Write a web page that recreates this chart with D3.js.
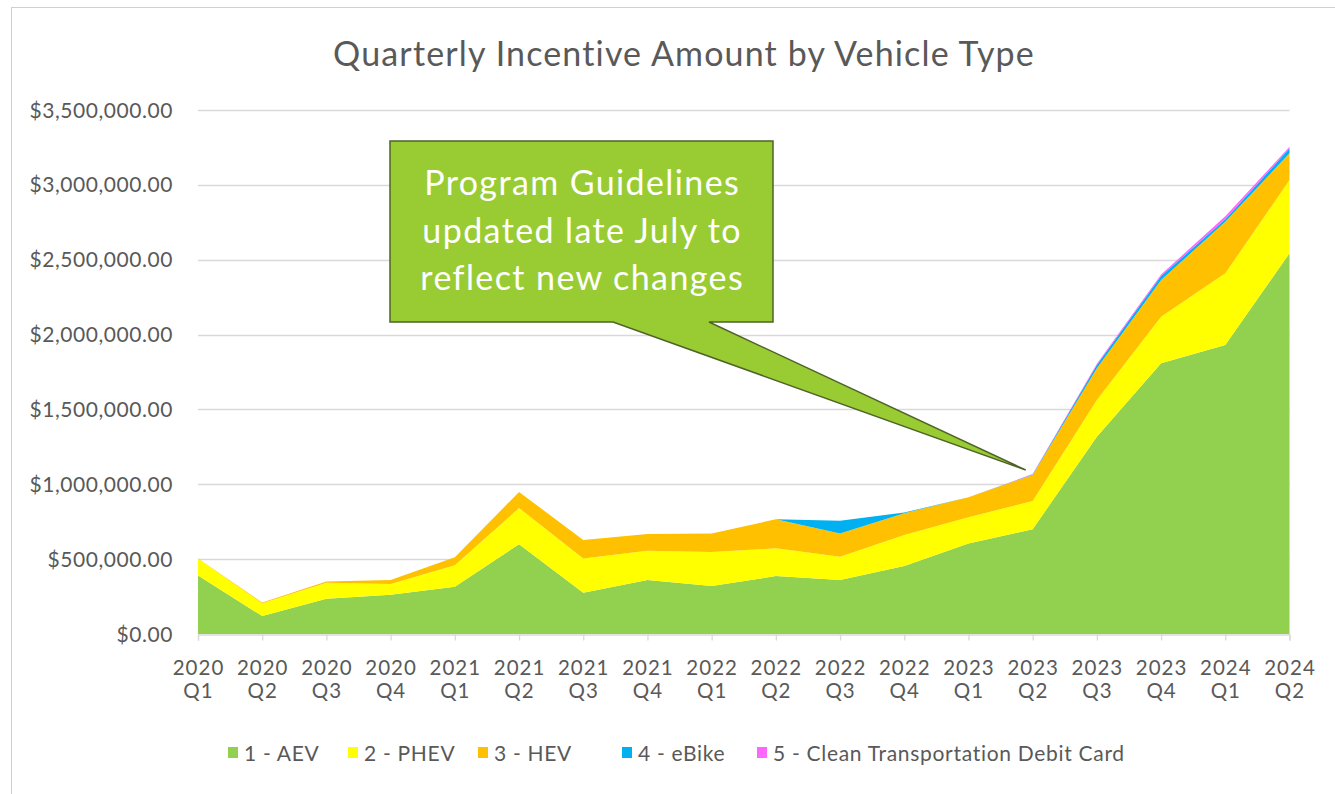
<!DOCTYPE html>
<html>
<head>
<meta charset="utf-8">
<script src="https://cdn.jsdelivr.net/npm/d3@7"></script>
<style>
  body { margin: 0; background: #fff; }
  svg { display: block; font-family: Lato, "Open Sans", sans-serif; }
</style>
</head>
<body>
<div id="chart"></div>
<script>
const quarters = ["2020 Q1","2020 Q2","2020 Q3","2020 Q4","2021 Q1","2021 Q2","2021 Q3","2021 Q4",
  "2022 Q1","2022 Q2","2022 Q3","2022 Q4","2023 Q1","2023 Q2","2023 Q3","2023 Q4","2024 Q1","2024 Q2"];

const seriesNames = ["1 - AEV", "2 - PHEV", "3 - HEV", "4 - eBike", "5 - Clean Transportation Debit Card"];
const seriesColors = ["#92d050", "#ffff00", "#ffc000", "#00b0f0", "#ff66ff"];

const aev   = [390000,120000,236000,262000,316000,600000,276000,361000,321000,387000,361000,454000,605000,700000,1318000,1808000,1930000,2543000];
const phev  = [112000,85000,107000,72000,143000,241000,229000,195000,227000,185000,155000,207000,175000,188000,245000,311000,479000,489000];
const hev   = [3000,5000,7000,26000,53000,108000,123000,112000,124000,194000,156000,145000,134000,174000,212000,245000,345000,179000];
const ebike = [0,0,0,0,0,0,0,0,0,0,85000,5000,0,3000,22000,27000,16000,33000];
const debit = [0,0,0,0,0,0,0,0,0,0,0,0,0,3000,8000,10000,20000,10000];

const yTicks = [0,500000,1000000,1500000,2000000,2500000,3000000,3500000];

const calloutLines = ["Program Guidelines", "updated late July to", "reflect new changes"];

const width = 1335, height = 794;
const seriesValues = [aev, phev, hev, ebike, debit];
const rows = quarters.map((q, i) => {
  const r = { q };
  seriesNames.forEach((s, k) => r[s] = seriesValues[k][i]);
  return r;
});

const svg = d3.select("#chart").append("svg")
  .attr("width", width).attr("height", height);

// outer chart border
svg.append("rect")
  .attr("x", 11.5).attr("y", 7.5)
  .attr("width", width + 20).attr("height", height + 20)
  .attr("fill", "none").attr("stroke", "#d0d0d0");

const x = d3.scalePoint().domain(quarters).range([198, 1289.5]);
const y = d3.scaleLinear().domain([0, 3500000]).range([634, 110]);

// gridlines
svg.append("g")
  .selectAll("line")
  .data(yTicks.slice(1))
  .join("line")
  .attr("x1", 198).attr("x2", 1289.5)
  .attr("y1", d => Math.round(y(d)) + 0.5).attr("y2", d => Math.round(y(d)) + 0.5)
  .attr("stroke", "#d9d9d9").attr("stroke-width", 1.3);

// y labels
const fmt = d3.format("$,.2f");
svg.append("g")
  .attr("font-size", 21)
  .attr("letter-spacing", 0.55)
  .attr("fill", "#595959")
  .attr("text-anchor", "end")
  .selectAll("text")
  .data(yTicks)
  .join("text")
  .attr("x", 173)
  .attr("y", d => y(d) + 7.5)
  .text(d => fmt(d));

// stacked areas
const stack = d3.stack().keys(seriesNames);
const layers = stack(rows);
const area = d3.area()
  .x(d => x(d.data.q))
  .y0(d => y(d[0]))
  .y1(d => y(d[1]));

svg.append("g")
  .selectAll("path")
  .data(layers)
  .join("path")
  .attr("fill", (d, i) => seriesColors[i])
  .attr("d", area);

// x axis line and ticks
const xAxis = d3.axisBottom(x).tickSize(6).tickFormat("");
const gx = svg.append("g")
  .attr("transform", "translate(0,634.5)")
  .call(xAxis);
gx.select(".domain").attr("stroke", "#d9d9d9").attr("stroke-width", 1.3);
gx.selectAll(".tick line").attr("stroke", "#d9d9d9").attr("stroke-width", 1.3);

// x labels (two lines)
svg.append("g")
  .attr("font-size", 20.5)
  .attr("letter-spacing", 1)
  .attr("fill", "#595959")
  .attr("text-anchor", "middle")
  .selectAll("text")
  .data(quarters)
  .join("text")
  .attr("transform", d => `translate(${x(d) + 0.5},0)`)
  .selectAll("tspan")
  .data(d => d.split(" "))
  .join("tspan")
  .attr("x", 0)
  .attr("y", (d, i) => 675 + i * 23)
  .text(d => d);

// title
svg.append("text")
  .attr("x", 684).attr("y", 66)
  .attr("text-anchor", "middle")
  .attr("font-size", 34)
  .attr("letter-spacing", 1.15)
  .attr("fill", "#595959")
  .text("Quarterly Incentive Amount by Vehicle Type");

// callout
const tipQ = "2023 Q2";
const tipX = x(tipQ) - 7, tipY = 470;
const box = { x0: 390, y0: 141, x1: 773, y1: 322 };
const callout = d3.path();
callout.moveTo(box.x0, box.y0);
callout.lineTo(box.x1, box.y0);
callout.lineTo(box.x1, box.y1);
callout.lineTo(709, box.y1);
callout.lineTo(tipX, tipY);
callout.lineTo(613, box.y1);
callout.lineTo(box.x0, box.y1);
callout.closePath();
svg.append("path")
  .attr("d", callout.toString())
  .attr("fill", "#99cc33")
  .attr("stroke", "#4f6228")
  .attr("stroke-width", 1.5)
  .attr("stroke-linejoin", "miter");

svg.append("g")
  .attr("font-size", 34)
  .attr("letter-spacing", 1.4)
  .attr("fill", "#ffffff")
  .attr("text-anchor", "middle")
  .selectAll("text")
  .data(calloutLines)
  .join("text")
  .attr("x", (box.x0 + box.x1) / 2 + 0.7)
  .attr("y", (d, i) => 195 + i * 47.5)
  .text(d => d);

// legend
const legendX = [228, 348, 478, 622, 757];
const lg = svg.append("g").attr("font-size", 21).attr("letter-spacing", 0.7).attr("fill", "#595959");
const items = lg.selectAll("g")
  .data(seriesNames)
  .join("g")
  .attr("transform", (d, i) => `translate(${legendX[i]},753)`);
items.append("rect")
  .attr("x", 0).attr("y", -6)
  .attr("width", 10).attr("height", 11)
  .attr("fill", (d, i) => seriesColors[i]);
items.append("text")
  .attr("x", 16).attr("y", 7.5)
  .text(d => d);
</script>
</body>
</html>
